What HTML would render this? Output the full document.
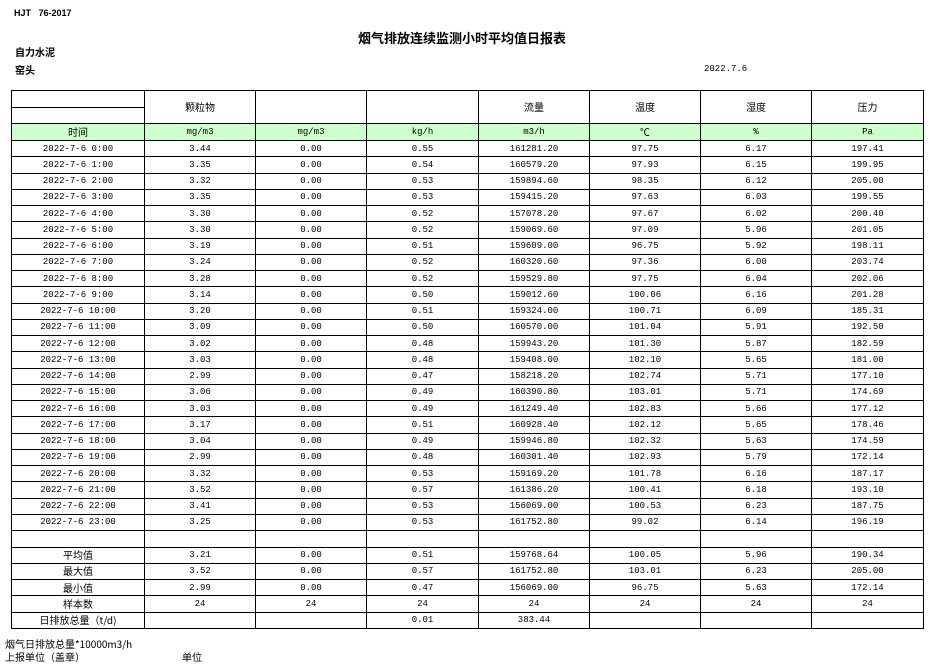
<!DOCTYPE html>
<html><head><meta charset="utf-8"><style>
body{margin:0;width:933px;height:671px;background:#fff;position:relative;overflow:hidden;font-family:"Liberation Mono","Noto Sans CJK SC",monospace;font-size:9px;color:#000}
.a{position:absolute;white-space:nowrap}
.b{font-family:"Liberation Sans","Noto Sans CJK SC",sans-serif;font-weight:bold}
table{position:absolute;left:11px;top:90px;border-collapse:collapse;table-layout:fixed;width:912px}
td{border:1px solid #000;padding:0;text-align:center;vertical-align:middle;height:15.26px;line-height:10px;overflow:hidden;white-space:nowrap}
.g td{background:#ccffcc;height:16px}
.h td{height:15.5px}
.c{font-family:"Noto Sans CJK SC",sans-serif;font-size:10px;line-height:10px}
</style></head><body>
<div class="a b" style="left:14px;top:8px;font-size:9px">HJT&nbsp;&nbsp;&nbsp;76-2017</div>
<div class="a b" style="left:358px;top:28px;font-size:13px">烟气排放连续监测小时平均值日报表</div>
<div class="a b" style="left:15px;top:44px;font-size:10px">自力水泥</div>
<div class="a b" style="left:15px;top:62px;font-size:10px">窑头</div>
<div class="a" style="left:704px;top:64px">2022.7.6</div>
<table>
<colgroup><col style="width:133px"><col style="width:111px"><col style="width:111px"><col style="width:112px"><col style="width:111px"><col style="width:111px"><col style="width:111px"><col style="width:112px"></colgroup>
<tr class="h"><td style="border-bottom:1px solid #000"></td><td rowspan="2" class="c">颗粒物</td><td rowspan="2"></td><td rowspan="2"></td><td rowspan="2" class="c">流量</td><td rowspan="2" class="c">温度</td><td rowspan="2" class="c">湿度</td><td rowspan="2" class="c">压力</td></tr>
<tr class="h"><td></td></tr>
<tr class="g"><td class="c">时间</td><td>mg/m3</td><td>mg/m3</td><td>kg/h</td><td>m3/h</td><td class="c">℃</td><td>%</td><td>Pa</td></tr>
<tr><td>2022-7-6 0:00</td><td>3.44</td><td>0.00</td><td>0.55</td><td>161281.20</td><td>97.75</td><td>6.17</td><td>197.41</td></tr>
<tr><td>2022-7-6 1:00</td><td>3.35</td><td>0.00</td><td>0.54</td><td>160579.20</td><td>97.93</td><td>6.15</td><td>199.95</td></tr>
<tr><td>2022-7-6 2:00</td><td>3.32</td><td>0.00</td><td>0.53</td><td>159894.60</td><td>98.35</td><td>6.12</td><td>205.00</td></tr>
<tr><td>2022-7-6 3:00</td><td>3.35</td><td>0.00</td><td>0.53</td><td>159415.20</td><td>97.63</td><td>6.03</td><td>199.55</td></tr>
<tr><td>2022-7-6 4:00</td><td>3.30</td><td>0.00</td><td>0.52</td><td>157078.20</td><td>97.67</td><td>6.02</td><td>200.40</td></tr>
<tr><td>2022-7-6 5:00</td><td>3.30</td><td>0.00</td><td>0.52</td><td>159069.60</td><td>97.09</td><td>5.96</td><td>201.05</td></tr>
<tr><td>2022-7-6 6:00</td><td>3.19</td><td>0.00</td><td>0.51</td><td>159609.00</td><td>96.75</td><td>5.92</td><td>198.11</td></tr>
<tr><td>2022-7-6 7:00</td><td>3.24</td><td>0.00</td><td>0.52</td><td>160320.60</td><td>97.36</td><td>6.00</td><td>203.74</td></tr>
<tr><td>2022-7-6 8:00</td><td>3.28</td><td>0.00</td><td>0.52</td><td>159529.80</td><td>97.75</td><td>6.04</td><td>202.06</td></tr>
<tr><td>2022-7-6 9:00</td><td>3.14</td><td>0.00</td><td>0.50</td><td>159012.60</td><td>100.06</td><td>6.16</td><td>201.28</td></tr>
<tr><td>2022-7-6 10:00</td><td>3.20</td><td>0.00</td><td>0.51</td><td>159324.00</td><td>100.71</td><td>6.09</td><td>185.31</td></tr>
<tr><td>2022-7-6 11:00</td><td>3.09</td><td>0.00</td><td>0.50</td><td>160570.00</td><td>101.04</td><td>5.91</td><td>192.50</td></tr>
<tr><td>2022-7-6 12:00</td><td>3.02</td><td>0.00</td><td>0.48</td><td>159943.20</td><td>101.30</td><td>5.87</td><td>182.59</td></tr>
<tr><td>2022-7-6 13:00</td><td>3.03</td><td>0.00</td><td>0.48</td><td>159408.00</td><td>102.10</td><td>5.65</td><td>181.00</td></tr>
<tr><td>2022-7-6 14:00</td><td>2.99</td><td>0.00</td><td>0.47</td><td>158218.20</td><td>102.74</td><td>5.71</td><td>177.10</td></tr>
<tr><td>2022-7-6 15:00</td><td>3.06</td><td>0.00</td><td>0.49</td><td>160390.80</td><td>103.01</td><td>5.71</td><td>174.69</td></tr>
<tr><td>2022-7-6 16:00</td><td>3.03</td><td>0.00</td><td>0.49</td><td>161249.40</td><td>102.83</td><td>5.66</td><td>177.12</td></tr>
<tr><td>2022-7-6 17:00</td><td>3.17</td><td>0.00</td><td>0.51</td><td>160928.40</td><td>102.12</td><td>5.65</td><td>178.46</td></tr>
<tr><td>2022-7-6 18:00</td><td>3.04</td><td>0.00</td><td>0.49</td><td>159946.80</td><td>102.32</td><td>5.63</td><td>174.59</td></tr>
<tr><td>2022-7-6 19:00</td><td>2.99</td><td>0.00</td><td>0.48</td><td>160301.40</td><td>102.93</td><td>5.79</td><td>172.14</td></tr>
<tr><td>2022-7-6 20:00</td><td>3.32</td><td>0.00</td><td>0.53</td><td>159169.20</td><td>101.78</td><td>6.16</td><td>187.17</td></tr>
<tr><td>2022-7-6 21:00</td><td>3.52</td><td>0.00</td><td>0.57</td><td>161386.20</td><td>100.41</td><td>6.18</td><td>193.10</td></tr>
<tr><td>2022-7-6 22:00</td><td>3.41</td><td>0.00</td><td>0.53</td><td>156069.00</td><td>100.53</td><td>6.23</td><td>187.75</td></tr>
<tr><td>2022-7-6 23:00</td><td>3.25</td><td>0.00</td><td>0.53</td><td>161752.80</td><td>99.02</td><td>6.14</td><td>196.19</td></tr>
<tr><td style="height:15.5px"></td><td></td><td></td><td></td><td></td><td></td><td></td><td></td></tr>
<tr><td class="c">平均值</td><td>3.21</td><td>0.00</td><td>0.51</td><td>159768.64</td><td>100.05</td><td>5.96</td><td>190.34</td></tr>
<tr><td class="c">最大值</td><td>3.52</td><td>0.00</td><td>0.57</td><td>161752.80</td><td>103.01</td><td>6.23</td><td>205.00</td></tr>
<tr><td class="c">最小值</td><td>2.99</td><td>0.00</td><td>0.47</td><td>156069.00</td><td>96.75</td><td>5.63</td><td>172.14</td></tr>
<tr><td class="c">样本数</td><td>24</td><td>24</td><td>24</td><td>24</td><td>24</td><td>24</td><td>24</td></tr>
<tr><td class="c" style="height:13px">日排放总量（t/d)</td><td></td><td></td><td>0.01</td><td>383.44</td><td></td><td></td><td></td></tr>
</table>
<div class="a c" style="left:5px;top:639px">烟气日排放总量*10000m3/h</div>
<div class="a c" style="left:5px;top:652px">上报单位（盖章）</div>
<div class="a c" style="left:182px;top:652px">单位</div>
</body></html>
